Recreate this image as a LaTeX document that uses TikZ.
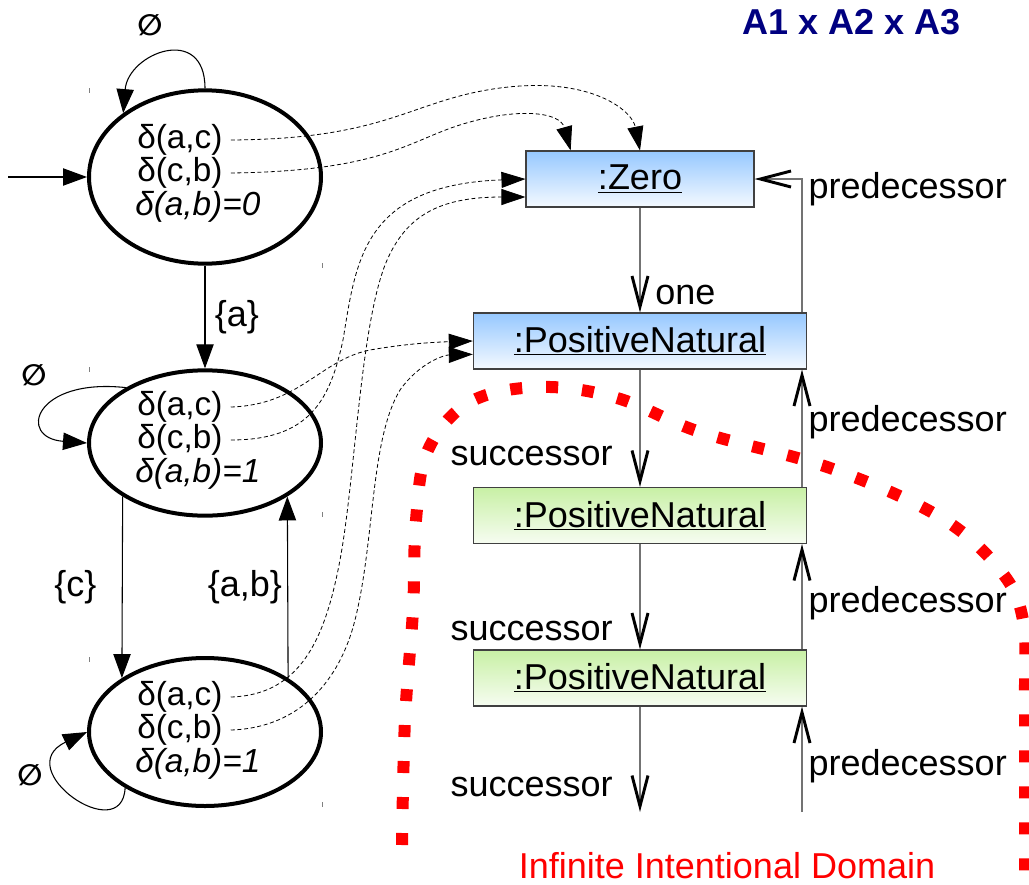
\documentclass[tikz,border=0pt]{standalone}
\usepackage{fontspec}
\setmainfont{Liberation Sans}
\newfontfamily\symfont{DejaVu Sans}
\usetikzlibrary{arrows.meta,shapes.geometric,positioning}

\definecolor{navytitle}{RGB}{0,0,128}
\definecolor{objblue}{RGB}{150,200,255}
\definecolor{objgreen}{RGB}{200,240,165}

\newcommand{\statefont}{\fontsize{25}{25}\selectfont}
\newcommand{\labelfont}{\fontsize{27}{32}\selectfont}
\newcommand{\emptyfont}{\symfont\bfseries\fontsize{22}{22}\selectfont}

\begin{document}
\begin{tikzpicture}
[x=0.75pt,y=-0.75pt,
 state/.style={ellipse,draw,line width=3pt,minimum width=174pt,inner sep=0pt},
 slot/.style={anchor=west,inner xsep=6pt,inner ysep=0pt,font=\statefont},
 trans/.style={-{Triangle[length=18pt,width=13pt]},line width=0.8pt},
 lbl/.style={font=\labelfont,inner sep=2pt},
 ref/.style={-{Triangle[length=18pt,width=12pt]},line width=0.6pt,dash pattern=on 3pt off 2pt},
 obj/.style={draw=black!75,line width=0.8pt,minimum height=42pt,font=\labelfont,inner sep=0pt},
 blueobj/.style={obj,top color=objblue,bottom color=objblue!10},
 greenobj/.style={obj,top color=objgreen,bottom color=objgreen!15},
 link/.style={draw=black!55,line width=1pt,-{Straight Barb[length=23pt,width=12pt,line width=2.2pt,color=black]}},
 selmark/.style={draw=black!50,line width=0.6pt},
 idomain/.style={draw=red,line width=9pt,dash pattern=on 9pt off 18pt},
]
\useasboundingbox (0,0) rectangle (1029,885);

%States of the automaton
\node[state,minimum height=130pt] (s1) at (205,177) {};
\node[state,minimum height=109pt] (s2) at (205,443) {};
\node[state,minimum height=111pt] (s3) at (205,732) {};

%Selection marks
\foreach \yt/\yb in {88/263,367/512,657/802}{
  \draw[selmark] (89,\yt) -- ++(0,5);
  \draw[selmark] (322,\yb) -- ++(0,5);
}

%Contents of the states
\node[slot] (s1ac) at (129,140) {δ(a,c)};
\node[slot] (s1cb) at (129,173) {δ(c,b)};
\node[slot] (s1ab) at (127,207) {\itshape δ(a,b)=0};
\node[slot] (s2ac) at (129,407) {δ(a,c)};
\node[slot] (s2cb) at (129,440) {δ(c,b)};
\node[slot] (s2ab) at (127,474) {\itshape δ(a,b)=1};
\node[slot] (s3ac) at (129,697) {δ(a,c)};
\node[slot] (s3cb) at (129,730) {δ(c,b)};
\node[slot] (s3ab) at (127,764) {\itshape δ(a,b)=1};

%Transitions
\coordinate (init) at (8,177);
\draw[trans] (init) -- (s1.west);
\draw[trans] (s1.south) -- node[lbl,right=5pt] (la) {\{a\}} (s2.north);
\draw[trans] (s2.213) -- node[lbl,left=17pt] (lc) {\{c\}} (s3.147);
\draw[trans] (s3.33) -- node[lbl,left=2pt] (lab) {\{a,b\}} (s2.-33);

%Self loops
\draw[trans] (s1.north) .. controls +(0,-65) and +(5,-60) .. (s1.142);
\draw[trans] (s2.145) .. controls +(-92,-10) and +(-70,-5) .. (s2.west);
\draw[trans] (s3.215) .. controls +(-3,60) and +(-78,37) .. (s3.west);
\node[font=\emptyfont] (e1) at (150,25) {∅};
\node[font=\emptyfont] (e2) at (34,375) {∅};
\node[font=\emptyfont] (e3) at (30,775) {∅};

%Objects
\node[blueobj,minimum width=171pt] (zero) at (640,179) {\underline{:Zero}};
\node[blueobj,minimum width=250pt] (pn1) at (640,341) {\underline{:PositiveNatural}};
\node[greenobj,minimum width=250pt] (pn2) at (640,515.5) {\underline{:PositiveNatural}};
\node[greenobj,minimum width=250pt] (pn3) at (640,678) {\underline{:PositiveNatural}};

%Links
\coordinate (succend) at (640,812);
\coordinate (predtail) at (802,812);
\draw[link] (zero) -- node[lbl,pos=0.83,right=9pt] (lone) {one} (pn1);
\draw[link] (pn1) -- node[lbl,pos=0.74,left=18pt] (ls1) {successor} (pn2);
\draw[link] (pn2) -- node[lbl,pos=0.82,left=18pt] (ls2) {successor} (pn3);
\draw[link] (pn3) -- node[lbl,pos=0.76,left=18pt] (ls3) {successor} (succend);
\draw[link] (predtail) -- node[lbl,pos=0.43,right=2.5pt] (lp4) {predecessor} (predtail |- pn3.south);
\draw[link] (predtail |- pn3.north) -- node[lbl,pos=0.44,right=2.5pt] (lp3) {predecessor} (predtail |- pn2.south);
\draw[link] (predtail |- pn2.north) -- node[lbl,pos=0.55,right=2.5pt] (lp2) {predecessor} (predtail |- pn1.south);
\draw[link] (predtail |- pn1.north) |- node[lbl,pos=0.46,right=2.5pt] (lp1) {predecessor} (zero.east);

%Interpretation of the clocks
\draw[ref] (s1ac.east) .. controls (390,139) and (410,100) .. (500,88) .. controls (590,76) and (632,110) .. (zero.north);
\draw[ref] (s1cb.east) .. controls (390,171) and (410,138) .. (470,122) .. controls (520,108) and (560,112) .. ([xshift=-52pt]zero.north);
\draw[ref] (s2ac.east) .. controls (300,405) and (320,360) .. (370,350) .. controls (410,343) and (440,342) .. (pn1.west);
\draw[ref] (s2cb.east) .. controls (310,440) and (330,400) .. (343,340) .. controls (356,262) and (362,185) .. (zero.west);
\draw[ref] (s3ac.east) .. controls (300,695) and (325,640) .. (340,560) .. controls (355,480) and (360,330) .. (385,265) .. controls (405,215) and (440,197) .. ([yshift=-13.5pt]zero.west);
\draw[ref] (s3cb.east) .. controls (300,728) and (340,680) .. (355,620) .. controls (375,540) and (370,440) .. (400,390) .. controls (420,362) and (445,355) .. ([yshift=-10pt]pn1.west);

%Infinite domain
\draw[idomain] plot[smooth,tension=0.6] coordinates {(402,845) (405,720) (413,610) (416,520) (428,450) (470,402) (540,387) (617,398) (700,432) (830,468) (940,517) (1000,570) (1023,620) (1025,700) (1025,885)};
\node[lbl,text=red] (domlbl) at (727,866) {Infinite Intentional Domain};
\node[lbl,font=\labelfont\bfseries,text=navytitle] (title) at (852,22) {A1 x A2 x A3};
\end{tikzpicture}
\end{document}
